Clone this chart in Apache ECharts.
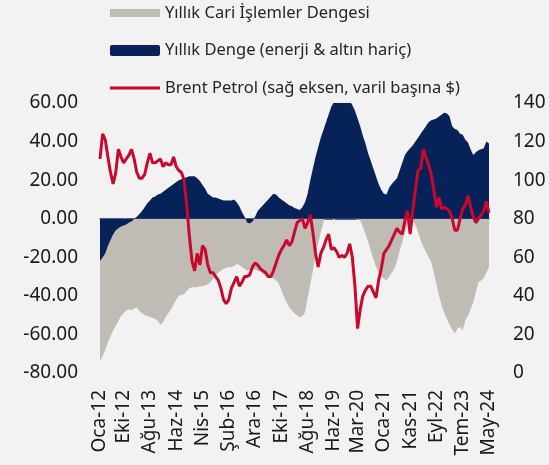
<!DOCTYPE html>
<html>
<head>
<meta charset="utf-8">
<script src="https://cdn.jsdelivr.net/npm/echarts@6/dist/echarts.min.js"></script>
<style>
  html, body { margin: 0; padding: 0; background: #f2f2f2; }
  #main { width: 549px; height: 465px; }
</style>
</head>
<body>
<div id="main"></div>
<script>
// monthly categories Oca-12 .. May-24
const monthNames = ['Oca', 'Şub', 'Mar', 'Nis', 'May', 'Haz', 'Tem', 'Ağu', 'Eyl', 'Eki', 'Kas', 'Ara'];
const categories = [];
for (let y = 2012; y <= 2024; y++) {
  for (let m = 0; m < 12; m++) {
    if (y === 2024 && m > 4) break;
    categories.push(monthNames[m] + '-' + String(y).slice(2));
  }
}

const tickLabels = ['Oca-12', 'Eki-12', 'Ağu-13', 'Haz-14', 'Nis-15', 'Şub-16', 'Ara-16', 'Eki-17',
  'Ağu-18', 'Haz-19', 'Mar-20', 'Oca-21', 'Kas-21', 'Eyl-22', 'Tem-23', 'May-24'];

// Yıllık Cari İşlemler Dengesi (left axis)
const cariDenge = [
  -74, -71, -68, -64, -61, -58, -55.5, -53, -50.5, -49, -47.5, -47,
  -47.5, -46.5, -46, -48, -49, -50, -50.5, -51, -51.5, -52, -53, -55,
  -53.5, -51, -49, -47, -44.5, -42, -40, -39.5, -39, -37.5, -36, -35.5,
  -35.5, -35.5, -35, -35, -34.5, -34, -33, -31, -29.5, -28, -27, -26,
  -25.5, -25, -25, -24.5, -23.5, -24, -25, -26, -27, -26.5, -26, -26.5,
  -27, -27.5, -28.5, -29, -29.5, -30.5, -31, -32, -33.5, -37, -40.5, -43.5,
  -46, -47.5, -49, -50, -51, -50.5, -48.5, -41, -34, -27, -18, -13,
  -7, -2, 1, 3, 4, 5, 6, 7, 7, 6, 5, 5,
  4, 3, 1, -1, -4, -8, -12, -16.5, -21, -25, -28, -30,
  -31, -32, -30, -28, -26, -22, -17, -12, -7, -3, 0, -1,
  -3, -7, -11, -14.5, -17, -20, -22.5, -28, -34, -40, -45, -49,
  -52, -55, -57.5, -59.5, -57, -56, -58, -52.5, -50.5, -47, -43.5, -38,
  -33, -32, -31, -28, -25
];

// Yıllık Denge (enerji & altın hariç) (left axis)
const dengeEnerjiAltinHaric = [
  -22, -20, -18, -14, -11, -8, -6, -5, -4, -3.5, -3, -2,
  -1.5, 0, 1, 2.5, 4, 6, 8, 9.5, 11, 11.5, 12.5, 13,
  14, 15, 16, 17, 18, 19, 20, 20.5, 21, 21.5, 22, 22,
  22, 21, 19.5, 17.5, 15.5, 13, 12, 11, 11, 10.5, 10, 9.5,
  9.5, 9.5, 9.5, 10, 8.5, 6.5, 3.5, 1, -2, -2.5, -1.5, 1,
  4, 5.5, 7, 8.5, 10, 11.5, 13, 12.5, 11, 10, 9, 8,
  7, 6.5, 5.5, 5, 4.5, 6, 8.5, 13, 20, 26, 32, 37,
  42, 46, 50, 54, 58, 60.5, 62, 63, 63, 62, 61, 61,
  59, 56, 52, 48, 43, 39, 34, 30, 26, 22, 18, 15,
  13, 12.5, 16, 18, 19.5, 21, 25, 29, 33, 35, 36.5, 38,
  40, 42, 44, 46, 48, 50, 51, 51.5, 52, 53, 54, 55,
  54.5, 53, 48, 46.5, 46, 44, 43.5, 41, 39.5, 36, 33, 34.5,
  35.5, 36, 36.5, 40, 39
];

// Brent Petrol (right axis, $/varil)
const brent = [
  111, 124, 121, 112, 104, 98, 104, 116, 112, 109, 111, 113,
  116, 111, 104, 101, 101, 103, 109, 114, 109, 109, 110, 111,
  107, 109, 108, 108, 112, 107, 105, 104, 100, 87, 71, 58,
  53, 62, 56, 66, 64, 56, 52, 52, 50, 48, 44, 38,
  36, 38, 44, 47, 50, 45, 47, 50, 50, 51, 55, 57,
  56, 54, 53, 52, 50, 50, 53, 57, 61, 64, 66, 69,
  66, 68, 73, 78, 79, 80, 75, 78, 82, 73, 62, 55,
  62, 65, 69, 72, 64, 65, 63, 60, 61, 60, 62, 67,
  60, 45, 23, 33, 40, 43, 45, 45, 42, 39, 48, 54,
  62, 64, 66, 69, 72, 75, 73, 72, 79, 84, 72, 84,
  95, 105, 106, 116, 112, 108, 103, 95, 86, 91, 85, 86,
  85, 84, 80, 74, 74, 80, 85, 87, 92, 86, 81, 78,
  80, 82, 84, 89, 83
];

const tickIdx = tickLabels.map(function (t) { return categories.indexOf(t); });
const showTick = function (i) { return tickIdx.indexOf(i) >= 0; };

const font = 'Noto Sans';
const grey = '#c0bbb5';
const navy = '#062258';
const red = '#c8092d';
const chart = echarts.init(document.getElementById('main'));

chart.setOption({
  backgroundColor: '#f2f2f2',
  animation: false,
  textStyle: { fontFamily: font },
  legend: {
    orient: 'vertical',
    left: 110,
    top: 2,
    padding: 0,
    itemWidth: 50,
    itemHeight: 12,
    itemGap: 15.5,
    textStyle: { fontFamily: font, fontSize: 16.5, color: '#262626', lineHeight: 22 },
    data: [
      // area swatches are drawn by the graphic rects below
      { name: 'Yıllık Cari İşlemler Dengesi', icon: 'rect', itemStyle: { opacity: 0 } },
      { name: 'Yıllık Denge (enerji & altın hariç)', icon: 'rect', itemStyle: { opacity: 0 } },
      {
        name: 'Brent Petrol (sağ eksen, varil başına $)',
        icon: 'path://M0,0 M50,12 M0,4.5 H50 V7.5 H0 Z',
        itemStyle: { color: red, borderWidth: 0 }
      }
    ]
  },
  graphic: [
    { type: 'rect', left: 110, top: 9, shape: { width: 50, height: 8 }, style: { fill: grey } },
    { type: 'rect', left: 110, top: 45, shape: { width: 50, height: 11, r: 2 }, style: { fill: navy } }
  ],
  grid: { left: 100, right: 60, top: 103, height: 270 },
  xAxis: [
    {
      type: 'category',
      data: categories,
      boundaryGap: false,
      position: 'bottom',
      axisLine: { show: false, onZero: false },
      axisTick: { show: false },
      axisLabel: {
        interval: function (i) { return showTick(i); },
        rotate: 90,
        margin: 17,
        fontFamily: font,
        fontSize: 19,
        color: '#1a1a1a'
      }
    },
    {
      type: 'category',
      data: categories,
      boundaryGap: false,
      position: 'top',
      axisLine: { show: true, onZero: true, lineStyle: { color: '#4f6488', width: 2 } },
      axisTick: {
        show: true,
        inside: true,
        length: 6,
        interval: function (i) { return showTick(i); },
        lineStyle: { color: '#e4e4e4', width: 1.5 }
      },
      axisLabel: { show: false }
    }
  ],
  yAxis: [
    {
      type: 'value',
      min: -80,
      max: 60,
      interval: 20,
      splitLine: { show: false },
      axisLine: { show: false },
      axisTick: { show: false },
      axisLabel: {
        margin: 22,
        fontFamily: font,
        fontSize: 19,
        color: '#1a1a1a',
        formatter: function (v) { return v.toFixed(2); }
      }
    },
    {
      type: 'value',
      min: 0,
      max: 140,
      interval: 20,
      splitLine: { show: false },
      axisLine: { show: false },
      axisTick: { show: false },
      axisLabel: { margin: 24, fontFamily: font, fontSize: 19, color: '#1a1a1a' }
    }
  ],
  series: [
    {
      name: 'Yıllık Cari İşlemler Dengesi',
      type: 'line',
      data: cariDenge,
      symbol: 'none',
      color: grey,
      lineStyle: { width: 0 },
      areaStyle: { color: grey, opacity: 1 },
      z: 1
    },
    {
      name: 'Yıllık Denge (enerji & altın hariç)',
      type: 'line',
      data: dengeEnerjiAltinHaric,
      symbol: 'none',
      color: navy,
      lineStyle: { width: 0 },
      areaStyle: { color: navy, opacity: 1 },
      z: 2
    },
    {
      name: 'Brent Petrol (sağ eksen, varil başına $)',
      type: 'line',
      yAxisIndex: 1,
      data: brent,
      symbol: 'none',
      color: red,
      lineStyle: { width: 3, color: red },
      z: 4
    }
  ]
});
</script>
</body>
</html>
